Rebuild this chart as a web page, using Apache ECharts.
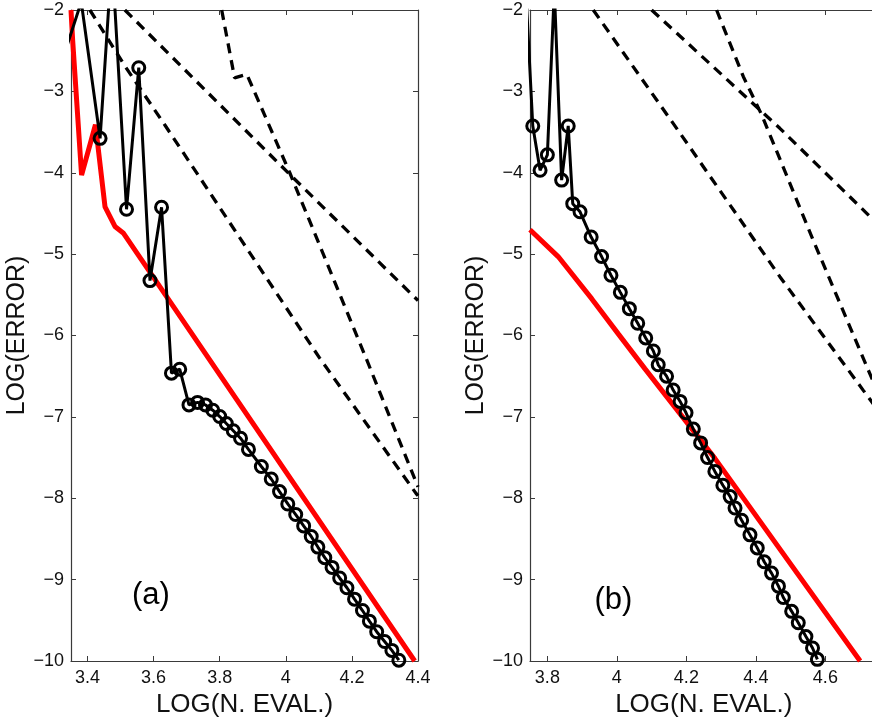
<!DOCTYPE html>
<html>
<head>
<meta charset="utf-8">
<script src="https://cdn.jsdelivr.net/npm/echarts@6/dist/echarts.min.js"></script>
<style>
html,body{margin:0;padding:0;background:#fff;}
#chart{width:872px;height:718px;}
</style>
</head>
<body>
<div id="chart"></div>
<script>
// ---------- data ----------
var yTickValues = [-10, -9, -8, -7, -6, -5, -4, -3, -2];
var yTickLabels = ['\u221210', '\u22129', '\u22128', '\u22127', '\u22126', '\u22125', '\u22124', '\u22123', '\u22122'];
var xTickValuesA = [3.4, 3.6, 3.8, 4, 4.2, 4.4];
var xTickLabelsA = ['3.4', '3.6', '3.8', '4', '4.2', '4.4'];
var xTickValuesB = [3.8, 4, 4.2, 4.4, 4.6];
var xTickLabelsB = ['3.8', '4', '4.2', '4.4', '4.6'];
var xName = 'LOG(N. EVAL.)';
var yName = 'LOG(ERROR)';
var panelLabels = ['(a)', '(b)'];
var panelLabelPosA = [3.592, -9.2];
var panelLabelPosB = [3.99, -9.26];

// panel (a)
var aRed = [[3.35, -2.0], [3.355, -2.37], [3.382, -4.03], [3.424, -3.41], [3.453, -4.42], [3.483, -4.66],
  [3.508, -4.74], [4.39, -10.0]];
var aBlack = [[3.33, -2.54], [3.381, -1.9], [3.438, -3.577], [3.474, -1.35], [3.518, -4.449], [3.555, -2.709],
  [3.589, -5.325], [3.624, -4.424], [3.654, -6.463], [3.679, -6.414], [3.707, -6.853], [3.733, -6.822],
  [3.757, -6.853], [3.779, -6.918], [3.800, -6.996], [3.820, -7.082], [3.841, -7.170], [3.863, -7.262],
  [3.887, -7.40], [3.926, -7.610], [3.956, -7.764], [3.981, -7.918], [4.006, -8.07], [4.030, -8.20],
  [4.054, -8.34], [4.077, -8.47], [4.097, -8.60], [4.118, -8.73], [4.140, -8.85], [4.163, -8.98],
  [4.185, -9.10], [4.208, -9.24], [4.232, -9.38], [4.253, -9.51], [4.275, -9.64], [4.299, -9.76],
  [4.321, -9.87], [4.342, -9.99]];
var aDashA = [[3.407, -2.0], [3.513, -2.688], [3.634, -3.413], [4.102, -6.275], [4.394, -7.94], [4.4, -7.97]];
var aDashB = [[3.806, -2.0], [3.845, -2.835], [3.882, -2.79], [4.012, -4.0], [4.243, -6.28], [4.4, -7.86]];
var aDashC = [[3.513, -2.0], [4.012, -4.02], [4.4, -5.57]];

// panel (b)
var bRed = [[3.75, -4.70], [3.831, -5.03], [3.928, -5.55], [4.004, -5.98], [4.081, -6.41],
  [4.167, -6.88], [4.282, -7.51], [4.70, -10.0]];
var bBlack = [[3.735, -1.5], [3.758, -3.425], [3.779, -3.97], [3.800, -3.78], [3.820, -1.75], [3.841, -4.09],
  [3.860, -3.425], [3.873, -4.38], [3.894, -4.48], [3.926, -4.79], [3.956, -5.03], [3.983, -5.26],
  [4.010, -5.47], [4.036, -5.67], [4.060, -5.85], [4.083, -6.03], [4.105, -6.19], [4.119, -6.36],
  [4.143, -6.50], [4.162, -6.67], [4.182, -6.81], [4.199, -6.95], [4.220, -7.15], [4.241, -7.32],
  [4.261, -7.50], [4.282, -7.67], [4.305, -7.84], [4.326, -7.98], [4.340, -8.12], [4.359, -8.27],
  [4.383, -8.45], [4.404, -8.61], [4.424, -8.78], [4.445, -8.92], [4.465, -9.08], [4.479, -9.22],
  [4.503, -9.39], [4.522, -9.53], [4.544, -9.70], [4.563, -9.84], [4.577, -9.98]];
var bDash1 = [[3.932, -2.0], [4.182, -3.515], [4.469, -5.277], [4.708, -6.668], [4.75, -6.91]];
var bDash2 = [[4.100, -2.0], [4.277, -2.697], [4.469, -3.454], [4.719, -4.499], [4.75, -4.63]];
var bDash3 = [[4.287, -2.0], [4.364, -2.82], [4.417, -3.29], [4.565, -4.83], [4.719, -6.38], [4.75, -6.69]];

// ---------- chart ----------
var FONT = 'Liberation Sans, Arial, Helvetica, sans-serif';
var AXC = '#3a3a3a';
function lbl(values, labels) {
  return function (v) {
    for (var i = 0; i < values.length; i++) {
      if (Math.abs(values[i] - v) < 1e-6) return labels[i];
    }
    return '';
  };
}
function xBottom(grid, min, max, vals, labs) {
  return {
    type: 'value', gridIndex: grid, position: 'bottom', min: min, max: max,
    name: xName, nameLocation: 'middle', nameGap: 29,
    nameTextStyle: {fontFamily: FONT, fontSize: 26, color: '#111'},
    axisLine: {show: true, onZero: false, lineStyle: {color: AXC, width: 1.2}},
    axisTick: {show: true, inside: true, length: 5, customValues: vals, lineStyle: {color: AXC}},
    axisLabel: {show: true, customValues: vals, formatter: lbl(vals, labs), margin: 8,
      fontFamily: FONT, fontSize: 18, color: '#111'},
    splitLine: {show: false}
  };
}
function xTop(grid, min, max, vals) {
  return {
    type: 'value', gridIndex: grid, position: 'top', min: min, max: max,
    axisLine: {show: true, onZero: false, lineStyle: {color: AXC, width: 1.2}},
    axisTick: {show: true, inside: true, length: 5, customValues: vals, lineStyle: {color: AXC}},
    axisLabel: {show: false}, splitLine: {show: false}
  };
}
function yLeft(grid) {
  return {
    type: 'value', gridIndex: grid, position: 'left', min: -10, max: -2, interval: 1,
    name: yName, nameLocation: 'middle', nameGap: 38, nameRotate: 90,
    nameTextStyle: {fontFamily: FONT, fontSize: 25, color: '#111'},
    axisLine: {show: true, onZero: false, lineStyle: {color: AXC, width: 1.2}},
    axisTick: {show: true, inside: true, length: 5, lineStyle: {color: AXC}},
    axisLabel: {show: true, formatter: lbl(yTickValues, yTickLabels), margin: 7,
      fontFamily: FONT, fontSize: 18, color: '#111'},
    splitLine: {show: false}
  };
}
function yRight(grid) {
  return {
    type: 'value', gridIndex: grid, position: 'right', min: -10, max: -2, interval: 1,
    axisLine: {show: true, onZero: false, lineStyle: {color: AXC, width: 1.2}},
    axisTick: {show: true, inside: true, length: 5, lineStyle: {color: AXC}},
    axisLabel: {show: false}, splitLine: {show: false}
  };
}
function redLine(data, xi, yi) {
  return {type: 'line', xAxisIndex: xi, yAxisIndex: yi, data: data, symbol: 'none', clip: true,
    lineStyle: {color: '#ff0000', width: 5}, z: 3};
}
function blackLine(data, xi, yi) {
  return {type: 'line', xAxisIndex: xi, yAxisIndex: yi, data: data, symbol: 'circle', symbolSize: 12,
    showSymbol: true, clip: true,
    lineStyle: {color: '#000', width: 3},
    itemStyle: {color: 'rgba(0,0,0,0)', borderColor: '#000', borderWidth: 3}, z: 4};
}
function dashLine(data, xi, yi) {
  return {type: 'line', xAxisIndex: xi, yAxisIndex: yi, data: data, symbol: 'none', clip: true,
    lineStyle: {color: '#000', width: 3.3, type: [10, 7], cap: 'butt'}, z: 2};
}
function textMark(pos, text, xi, yi) {
  return {type: 'scatter', xAxisIndex: xi, yAxisIndex: yi, data: [pos], symbolSize: 1,
    itemStyle: {color: 'rgba(0,0,0,0)', opacity: 1}, silent: true,
    label: {show: true, position: 'inside', opacity: 1, textBorderWidth: 0,
      formatter: function () { return text; },
      fontFamily: FONT, fontSize: 31, color: '#000'}};
}

var chart = echarts.init(document.getElementById('chart'), null, {renderer: 'canvas'});
chart.setOption({
  animation: false,
  backgroundColor: '#ffffff',
  grid: [
    {left: 71, top: 10, width: 347, height: 651, outerBoundsMode: 'none', containLabel: false},
    {left: 530, top: 10, width: 347.5, height: 651, outerBoundsMode: 'none', containLabel: false}
  ],
  xAxis: [
    xBottom(0, 3.35, 4.4, xTickValuesA, xTickLabelsA),
    xTop(0, 3.35, 4.4, xTickValuesA),
    xBottom(1, 3.75, 4.75, xTickValuesB, xTickLabelsB),
    xTop(1, 3.75, 4.75, xTickValuesB)
  ],
  yAxis: [yLeft(0), yRight(0), yLeft(1), yRight(1)],
  series: [
    dashLine(aDashA, 0, 0), dashLine(aDashB, 0, 0), dashLine(aDashC, 0, 0),
    redLine(aRed, 0, 0), blackLine(aBlack, 0, 0),
    textMark(panelLabelPosA, panelLabels[0], 0, 0),
    dashLine(bDash1, 2, 2), dashLine(bDash2, 2, 2), dashLine(bDash3, 2, 2),
    redLine(bRed, 2, 2), blackLine(bBlack, 2, 2),
    textMark(panelLabelPosB, panelLabels[1], 2, 2)
  ]
});
</script>
</body>
</html>
